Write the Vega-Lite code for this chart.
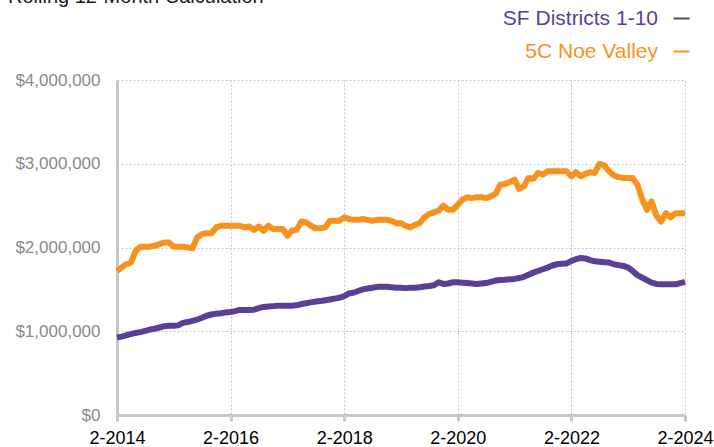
{
  "$schema": "https://vega.github.io/schema/vega-lite/v6.json",
  "width": 568,
  "height": 335,
  "autosize": {"type": "none"},
  "padding": {"left": 117, "top": 80, "right": 29, "bottom": 32},
  "background": "white",
  "title": {
    "text": "Rolling 12-Month Calculation",
    "anchor": "start",
    "frame": "group",
    "dx": -109,
    "fontSize": 20,
    "font": "Liberation Sans",
    "fontWeight": "normal",
    "color": "#1a1a1a",
    "baseline": "alphabetic",
    "offset": -15
  },
  "data": {
    "values": [
      {"d": "2014-02-01", "sf": 923000, "noe": 1720000},
      {"d": "2014-03-01", "sf": 935000, "noe": 1760000},
      {"d": "2014-04-01", "sf": 950000, "noe": 1800000},
      {"d": "2014-05-01", "sf": 965000, "noe": 1820000},
      {"d": "2014-06-01", "sf": 980000, "noe": 1960000},
      {"d": "2014-07-01", "sf": 990000, "noe": 2010000},
      {"d": "2014-08-01", "sf": 1005000, "noe": 2010000},
      {"d": "2014-09-01", "sf": 1020000, "noe": 2010000},
      {"d": "2014-10-01", "sf": 1030000, "noe": 2020000},
      {"d": "2014-11-01", "sf": 1045000, "noe": 2040000},
      {"d": "2014-12-01", "sf": 1060000, "noe": 2060000},
      {"d": "2015-01-01", "sf": 1065000, "noe": 2060000},
      {"d": "2015-02-01", "sf": 1065000, "noe": 2010000},
      {"d": "2015-03-01", "sf": 1070000, "noe": 2010000},
      {"d": "2015-04-01", "sf": 1100000, "noe": 2010000},
      {"d": "2015-05-01", "sf": 1110000, "noe": 2000000},
      {"d": "2015-06-01", "sf": 1125000, "noe": 1990000},
      {"d": "2015-07-01", "sf": 1140000, "noe": 2120000},
      {"d": "2015-08-01", "sf": 1160000, "noe": 2160000},
      {"d": "2015-09-01", "sf": 1185000, "noe": 2170000},
      {"d": "2015-10-01", "sf": 1200000, "noe": 2170000},
      {"d": "2015-11-01", "sf": 1210000, "noe": 2240000},
      {"d": "2015-12-01", "sf": 1215000, "noe": 2260000},
      {"d": "2016-01-01", "sf": 1225000, "noe": 2260000},
      {"d": "2016-02-01", "sf": 1230000, "noe": 2260000},
      {"d": "2016-03-01", "sf": 1240000, "noe": 2260000},
      {"d": "2016-04-01", "sf": 1255000, "noe": 2260000},
      {"d": "2016-05-01", "sf": 1255000, "noe": 2240000},
      {"d": "2016-06-01", "sf": 1255000, "noe": 2250000},
      {"d": "2016-07-01", "sf": 1258000, "noe": 2210000},
      {"d": "2016-08-01", "sf": 1275000, "noe": 2250000},
      {"d": "2016-09-01", "sf": 1290000, "noe": 2200000},
      {"d": "2016-10-01", "sf": 1295000, "noe": 2260000},
      {"d": "2016-11-01", "sf": 1300000, "noe": 2220000},
      {"d": "2016-12-01", "sf": 1305000, "noe": 2220000},
      {"d": "2017-01-01", "sf": 1305000, "noe": 2220000},
      {"d": "2017-02-01", "sf": 1305000, "noe": 2140000},
      {"d": "2017-03-01", "sf": 1305000, "noe": 2200000},
      {"d": "2017-04-01", "sf": 1310000, "noe": 2210000},
      {"d": "2017-05-01", "sf": 1325000, "noe": 2310000},
      {"d": "2017-06-01", "sf": 1335000, "noe": 2300000},
      {"d": "2017-07-01", "sf": 1345000, "noe": 2260000},
      {"d": "2017-08-01", "sf": 1355000, "noe": 2230000},
      {"d": "2017-09-01", "sf": 1360000, "noe": 2230000},
      {"d": "2017-10-01", "sf": 1370000, "noe": 2240000},
      {"d": "2017-11-01", "sf": 1380000, "noe": 2320000},
      {"d": "2017-12-01", "sf": 1390000, "noe": 2320000},
      {"d": "2018-01-01", "sf": 1400000, "noe": 2320000},
      {"d": "2018-02-01", "sf": 1420000, "noe": 2360000},
      {"d": "2018-03-01", "sf": 1450000, "noe": 2340000},
      {"d": "2018-04-01", "sf": 1460000, "noe": 2330000},
      {"d": "2018-05-01", "sf": 1480000, "noe": 2330000},
      {"d": "2018-06-01", "sf": 1500000, "noe": 2340000},
      {"d": "2018-07-01", "sf": 1510000, "noe": 2330000},
      {"d": "2018-08-01", "sf": 1520000, "noe": 2320000},
      {"d": "2018-09-01", "sf": 1530000, "noe": 2330000},
      {"d": "2018-10-01", "sf": 1530000, "noe": 2330000},
      {"d": "2018-11-01", "sf": 1530000, "noe": 2330000},
      {"d": "2018-12-01", "sf": 1525000, "noe": 2320000},
      {"d": "2019-01-01", "sf": 1520000, "noe": 2290000},
      {"d": "2019-02-01", "sf": 1520000, "noe": 2290000},
      {"d": "2019-03-01", "sf": 1515000, "noe": 2260000},
      {"d": "2019-04-01", "sf": 1520000, "noe": 2240000},
      {"d": "2019-05-01", "sf": 1520000, "noe": 2270000},
      {"d": "2019-06-01", "sf": 1525000, "noe": 2290000},
      {"d": "2019-07-01", "sf": 1535000, "noe": 2360000},
      {"d": "2019-08-01", "sf": 1540000, "noe": 2400000},
      {"d": "2019-09-01", "sf": 1550000, "noe": 2420000},
      {"d": "2019-10-01", "sf": 1585000, "noe": 2440000},
      {"d": "2019-11-01", "sf": 1565000, "noe": 2500000},
      {"d": "2019-12-01", "sf": 1570000, "noe": 2450000},
      {"d": "2020-01-01", "sf": 1585000, "noe": 2450000},
      {"d": "2020-02-01", "sf": 1585000, "noe": 2510000},
      {"d": "2020-03-01", "sf": 1580000, "noe": 2570000},
      {"d": "2020-04-01", "sf": 1575000, "noe": 2600000},
      {"d": "2020-05-01", "sf": 1570000, "noe": 2590000},
      {"d": "2020-06-01", "sf": 1565000, "noe": 2600000},
      {"d": "2020-07-01", "sf": 1570000, "noe": 2600000},
      {"d": "2020-08-01", "sf": 1575000, "noe": 2590000},
      {"d": "2020-09-01", "sf": 1590000, "noe": 2610000},
      {"d": "2020-10-01", "sf": 1605000, "noe": 2640000},
      {"d": "2020-11-01", "sf": 1612000, "noe": 2750000},
      {"d": "2020-12-01", "sf": 1615000, "noe": 2760000},
      {"d": "2021-01-01", "sf": 1620000, "noe": 2780000},
      {"d": "2021-02-01", "sf": 1625000, "noe": 2810000},
      {"d": "2021-03-01", "sf": 1635000, "noe": 2700000},
      {"d": "2021-04-01", "sf": 1650000, "noe": 2730000},
      {"d": "2021-05-01", "sf": 1675000, "noe": 2830000},
      {"d": "2021-06-01", "sf": 1700000, "noe": 2820000},
      {"d": "2021-07-01", "sf": 1720000, "noe": 2890000},
      {"d": "2021-08-01", "sf": 1740000, "noe": 2870000},
      {"d": "2021-09-01", "sf": 1760000, "noe": 2910000},
      {"d": "2021-10-01", "sf": 1785000, "noe": 2910000},
      {"d": "2021-11-01", "sf": 1800000, "noe": 2910000},
      {"d": "2021-12-01", "sf": 1805000, "noe": 2910000},
      {"d": "2022-01-01", "sf": 1810000, "noe": 2910000},
      {"d": "2022-02-01", "sf": 1840000, "noe": 2850000},
      {"d": "2022-03-01", "sf": 1860000, "noe": 2900000},
      {"d": "2022-04-01", "sf": 1875000, "noe": 2850000},
      {"d": "2022-05-01", "sf": 1870000, "noe": 2880000},
      {"d": "2022-06-01", "sf": 1850000, "noe": 2900000},
      {"d": "2022-07-01", "sf": 1835000, "noe": 2890000},
      {"d": "2022-08-01", "sf": 1830000, "noe": 3000000},
      {"d": "2022-09-01", "sf": 1825000, "noe": 2980000},
      {"d": "2022-10-01", "sf": 1820000, "noe": 2910000},
      {"d": "2022-11-01", "sf": 1800000, "noe": 2860000},
      {"d": "2022-12-01", "sf": 1790000, "noe": 2840000},
      {"d": "2023-01-01", "sf": 1780000, "noe": 2830000},
      {"d": "2023-02-01", "sf": 1760000, "noe": 2830000},
      {"d": "2023-03-01", "sf": 1720000, "noe": 2830000},
      {"d": "2023-04-01", "sf": 1670000, "noe": 2750000},
      {"d": "2023-05-01", "sf": 1640000, "noe": 2580000},
      {"d": "2023-06-01", "sf": 1610000, "noe": 2450000},
      {"d": "2023-07-01", "sf": 1580000, "noe": 2550000},
      {"d": "2023-08-01", "sf": 1565000, "noe": 2380000},
      {"d": "2023-09-01", "sf": 1560000, "noe": 2310000},
      {"d": "2023-10-01", "sf": 1560000, "noe": 2410000},
      {"d": "2023-11-01", "sf": 1560000, "noe": 2360000},
      {"d": "2023-12-01", "sf": 1560000, "noe": 2410000},
      {"d": "2024-01-01", "sf": 1575000, "noe": 2410000},
      {"d": "2024-02-01", "sf": 1590000, "noe": 2410000}
    ]
  },
  "transform": [{"fold": ["sf", "noe"], "as": ["series", "price"]}],
  "mark": {"type": "line", "strokeWidth": 6, "strokeJoin": "round", "strokeCap": "butt"},
  "encoding": {
    "x": {
      "field": "d",
      "type": "temporal",
      "scale": {"domain": [{"year": 2014, "month": 2, "date": 1}, {"year": 2024, "month": 2, "date": 1}]},
      "axis": {
        "title": null,
        "values": [
          {"year": 2014, "month": 2, "date": 1},
          {"year": 2016, "month": 2, "date": 1},
          {"year": 2018, "month": 2, "date": 1},
          {"year": 2020, "month": 2, "date": 1},
          {"year": 2022, "month": 2, "date": 1},
          {"year": 2024, "month": 2, "date": 1}
        ],
        "format": "%-m-%Y",
        "labelFlush": false,
        "labelOverlap": false,
        "labelFontSize": 18,
        "labelFont": "Liberation Sans",
        "labelColor": "#000000",
        "labelPadding": 8,
        "tickColor": "#c6c6c6",
        "tickWidth": 3,
        "tickSize": 6,
        "domainColor": "#c6c6c6",
        "domainWidth": 3,
        "gridColor": "#c4c4c4",
        "gridDash": [2, 2],
        "gridWidth": 1
      }
    },
    "y": {
      "field": "price",
      "type": "quantitative",
      "scale": {"domain": [0, 4000000]},
      "axis": {
        "title": null,
        "values": [0, 1000000, 2000000, 3000000, 4000000],
        "format": "$,.0f",
        "ticks": false,
        "labelFontSize": 17,
        "labelFont": "Liberation Sans",
        "labelColor": "#8a8a8a",
        "labelPadding": 17,
        "domainColor": "#c6c6c6",
        "domainWidth": 3,
        "gridColor": "#c4c4c4",
        "gridDash": [2, 2],
        "gridWidth": 1
      }
    },
    "color": {
      "field": "series",
      "type": "nominal",
      "scale": {"domain": ["sf", "noe"], "range": ["#5a3f96", "#f7921e"]},
      "legend": {
        "title": null,
        "orient": "none",
        "legendX": 554,
        "legendY": -72,
        "padding": 0,
        "labelAlign": "right",
        "labelOffset": -34,
        "symbolType": "stroke",
        "symbolSize": 256,
        "symbolStrokeWidth": 2,
        "labelFontSize": 21,
        "labelFont": "Liberation Sans",
        "rowPadding": 11,
        "labelLimit": 300,
        "labelExpr": "datum.value == 'sf' ? 'SF Districts 1-10' : '5C Noe Valley'",
        "encode": {
          "labels": {"update": {"fill": {"scale": "color", "field": "value"}}}
        }
      }
    }
  },
  "config": {"view": {"stroke": null}}
}
